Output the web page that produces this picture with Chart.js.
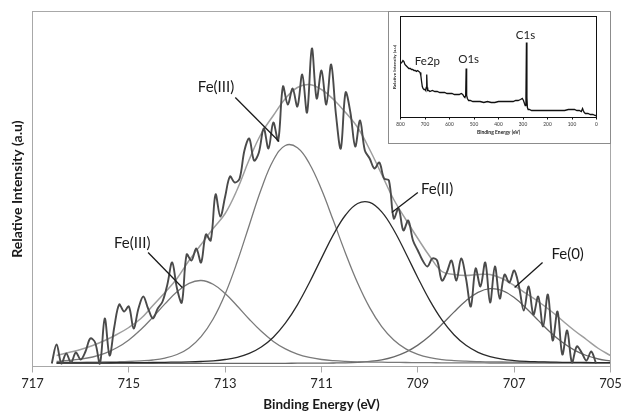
<!DOCTYPE html>
<html>
<head>
<meta charset="utf-8">
<title>Fe 2p XPS</title>
<script src="https://cdn.jsdelivr.net/npm/chart.js@4.4.1/dist/chart.umd.min.js"></script>
<style>
  html, body { margin: 0; padding: 0; background: #fff; }
  #wrap { position: relative; width: 621px; height: 414px; }
  #inset { position: absolute; left: 388px; top: 11px; width: 223px; height: 133px;
           background: #fff; border: 1px solid #8c8c8c; box-sizing: border-box; }
  #inset canvas { display: block; }
</style>
</head>
<body>
<div id="wrap">
  <canvas id="mainChart" width="621" height="414"></canvas>
  <div id="inset"><canvas id="surveyChart" width="221" height="131"></canvas></div>
</div>
<script>
// Fe 2p high resolution spectrum (raw counts)
const rawEnergy = [716.6, 716.5, 716.4, 716.3, 716.2, 716.1, 716.0, 715.9, 715.8, 715.7,
  715.6, 715.5, 715.4, 715.3, 715.2, 715.1, 715.0, 714.9, 714.8, 714.7,
  714.6, 714.5, 714.4, 714.3, 714.2, 714.1, 714.0, 713.9, 713.8, 713.7,
  713.6, 713.5, 713.4, 713.3, 713.2, 713.1, 713.0, 712.9, 712.8, 712.7,
  712.6, 712.5, 712.4, 712.3, 712.2, 712.1, 712.0, 711.9, 711.8, 711.7,
  711.6, 711.5, 711.4, 711.3, 711.2, 711.1, 711.0, 710.9, 710.8, 710.7,
  710.6, 710.5, 710.4, 710.3, 710.2, 710.1, 710.0, 709.9, 709.8, 709.7,
  709.6, 709.5, 709.4, 709.3, 709.2, 709.1, 709.0, 708.9, 708.8, 708.7,
  708.6, 708.5, 708.4, 708.3, 708.2, 708.1, 708.0, 707.9, 707.8, 707.7,
  707.6, 707.5, 707.4, 707.3, 707.2, 707.1, 707.0, 706.9, 706.8, 706.7,
  706.6, 706.5, 706.4, 706.3, 706.2, 706.1, 706.0, 705.9, 705.8, 705.7,
  705.6, 705.5, 705.4, 705.3];
const rawCounts = [3, 22, 3, 13, 4, 14, 7, 15, 28, 24,
  3, 48, 11, 40, 62, 55, 60, 38, 58, 70,
  58, 48, 58, 65, 82, 104, 78, 64, 112, 106,
  118, 104, 132, 126, 172, 150, 170, 190, 184, 188,
  216, 228, 206, 214, 238, 218, 244, 226, 280, 262,
  278, 260, 292, 254, 318, 268, 296, 262, 302, 252,
  218, 274, 254, 220, 246, 216, 208, 198, 204, 188,
  186, 148, 158, 136, 146, 126, 116, 106, 100, 108,
  106, 86, 94, 106, 86, 108, 88, 60, 98, 80,
  104, 64, 100, 68, 92, 84, 96, 80, 56, 80,
  52, 70, 40, 72, 26, 55, 12, 36, 4, 20,
  14, 6, 15, 3];

// fitted components
const fitEnergy = [716.5, 716.25, 716.0, 715.75, 715.5, 715.25, 715.0, 714.75, 714.5, 714.25,
  714.0, 713.75, 713.5, 713.25, 713.0, 712.75, 712.5, 712.25, 712.0, 711.75,
  711.5, 711.25, 711.0, 710.75, 710.5, 710.25, 710.0, 709.75, 709.5, 709.25,
  709.0, 708.75, 708.5, 708.25, 708.0, 707.75, 707.5, 707.25, 707.0, 706.75,
  706.5, 706.25, 706.0, 705.75, 705.5, 705.25, 705.0];
const envelopeFit = [11, 14, 17, 21, 26, 32, 39, 48, 61, 74,
  88, 106, 122, 138, 153, 177, 207, 233, 251, 268,
  279, 282, 277, 267, 254, 239, 217, 192, 167, 147,
  128, 110, 95, 92, 91, 92, 92, 88, 81, 73,
  65, 56, 46, 36, 27, 18, 11];
const fe3SatFit = [5.2, 6.0, 7.3, 9.5, 13.1, 18.7, 26.6, 37.0, 49.4, 62.6,
  74.7, 83.2, 86.0, 82.2, 72.9, 60.5, 47.3, 35.2, 25.1, 17.6,
  12.4, 9.1, 7.0, 5.8, 5.1, 4.7, 4.5, 4.3, 4.1, 4.0,
  3.9, 3.8, 3.7, 3.7, 3.6, 3.6, 3.5, 3.5, 3.5, 3.4,
  3.4, 3.4, 3.4, 3.3, 3.3, 3.3, 3.3];
const fe3MainFit = [3.9, 4.0, 4.2, 4.3, 4.5, 4.7, 5.0, 5.6, 6.5, 8.4,
  12.0, 18.6, 29.9, 47.5, 72.5, 104.7, 141.3, 177.5, 206.3, 221.0,
  218.7, 202.8, 176.9, 145.4, 113.1, 83.5, 58.9, 39.9, 26.5, 17.6,
  12.1, 8.8, 6.9, 5.9, 5.3, 4.9, 4.6, 4.5, 4.3, 4.2,
  4.1, 4.0, 3.9, 3.8, 3.8, 3.7, 3.7];
const fe2Fit = [3.5, 3.6, 3.6, 3.6, 3.7, 3.8, 3.9, 3.9, 4.0, 4.2,
  4.4, 4.6, 5.0, 5.7, 7.0, 9.2, 13.1, 19.5, 29.3, 43.3,
  61.7, 84.0, 108.4, 132.1, 151.5, 163.0, 164.1, 154.6, 136.5, 113.3,
  88.8, 65.9, 46.6, 31.8, 21.2, 14.2, 9.9, 7.3, 5.9, 5.1,
  4.7, 4.4, 4.2, 4.1, 4.0, 3.9, 3.8];
const fe0Fit = [3.1, 3.1, 3.1, 3.1, 3.1, 3.1, 3.1, 3.1, 3.1, 3.1,
  3.1, 3.1, 3.1, 3.1, 3.1, 3.1, 3.2, 3.2, 3.2, 3.2,
  3.3, 3.3, 3.4, 3.5, 3.7, 4.2, 5.1, 6.7, 9.7, 14.4,
  21.4, 30.8, 42.2, 54.4, 65.8, 74.2, 77.9, 76.0, 68.9, 58.3,
  46.1, 34.3, 24.2, 16.4, 11.0, 7.5, 5.5];

// survey spectrum for the inset
const surveyEnergy = [800, 795, 790, 786, 782, 778, 774, 770, 766, 760,
  755, 750, 745, 740, 735, 730, 725, 720, 717, 714,
  711, 708, 704, 700, 697, 695, 693, 691, 689, 685,
  680, 670, 660, 650, 640, 630, 620, 610, 600, 590,
  580, 570, 560, 552, 546, 541, 537, 534, 532, 530,
  527, 522, 515, 505, 490, 475, 460, 445, 430, 415,
  400, 385, 370, 355, 340, 330, 320, 310, 303, 298,
  294, 291, 288, 286, 284, 282, 279, 274, 265, 250,
  235, 220, 205, 190, 175, 160, 145, 130, 115, 100,
  90, 80, 70, 62, 57, 54, 50, 45, 35, 25,
  15, 5, 0];
const surveyCounts = [54, 55, 57, 56, 53, 52, 51, 50, 49, 49,
  48, 48, 47, 47, 46, 47, 46, 45, 42, 36,
  31, 29, 28, 28, 27, 30, 43, 30, 27, 27,
  26, 27, 26, 26, 25, 25, 25, 24, 24, 24,
  23, 23, 23, 24, 23, 21, 20, 22, 49, 22,
  19, 17, 17, 16, 16, 16, 15, 16, 15, 15,
  16, 16, 16, 16, 16, 17, 17, 18, 19, 17,
  14, 12, 20, 75, 20, 10, 8, 8, 7, 7,
  7, 7, 7, 7, 7, 7, 7, 7, 8, 8,
  8, 7, 7, 6, 9, 7, 5, 4, 4, 3,
  3, 2, 2];

const FONT = 'Lato, "Open Sans", sans-serif';
const FRAME = '#a8a8a8';
Chart.defaults.font.family = FONT;

function toPoints(xs, ys) {
  return xs.map((x, i) => ({ x: x, y: ys[i] }));
}

// draws a box round the plot area
const framePlugin = {
  id: 'frame',
  afterDraw(chart, args, opts) {
    const a = chart.chartArea;
    const ctx = chart.ctx;
    ctx.save();
    ctx.strokeStyle = opts.color;
    ctx.lineWidth = 1;
    ctx.strokeRect(a.left, a.top, a.right - a.left, a.bottom - a.top);
    ctx.restore();
  }
};

// peak labels with leader lines, anchored in data units
const notePlugin = {
  id: 'notes',
  afterDraw(chart, args, opts) {
    const { ctx } = chart;
    const x = chart.scales.x, y = chart.scales.y;
    ctx.save();
    ctx.font = opts.font;
    ctx.fillStyle = opts.color;
    ctx.strokeStyle = opts.color;
    ctx.lineWidth = opts.lineWidth;
    ctx.textAlign = 'center';
    ctx.textBaseline = 'middle';
    opts.items.forEach(n => {
      if (n.from) {
        ctx.beginPath();
        ctx.moveTo(x.getPixelForValue(n.from[0]), y.getPixelForValue(n.from[1]));
        ctx.lineTo(x.getPixelForValue(n.to[0]), y.getPixelForValue(n.to[1]));
        ctx.stroke();
      }
      ctx.fillText(n.text, x.getPixelForValue(n.at[0]), y.getPixelForValue(n.at[1]));
    });
    ctx.restore();
  }
};

function line(data, color, width, tension) {
  return { data: data, borderColor: color, borderWidth: width, tension: tension,
           pointRadius: 0, fill: false };
}

new Chart(document.getElementById('mainChart'), {
  type: 'line',
  data: {
    datasets: [
      line(toPoints(rawEnergy, rawCounts), '#4a4a4a', 1.9, 0.35),
      line(toPoints(fitEnergy, fe2Fit), '#2a2a2a', 1.3, 0.4),
      line(toPoints(fitEnergy, fe3MainFit), '#7a7a7a', 1.3, 0.4),
      line(toPoints(fitEnergy, fe3SatFit), '#7a7a7a', 1.3, 0.4),
      line(toPoints(fitEnergy, fe0Fit), '#686868', 1.3, 0.4),
      line(toPoints(fitEnergy, envelopeFit), '#9e9e9e', 1.5, 0.4)
    ]
  },
  options: {
    responsive: false,
    animation: false,
    layout: { padding: { top: 11.5, right: 10.5, left: 0, bottom: 0 } },
    plugins: {
      legend: { display: false },
      tooltip: { enabled: false },
      frame: { color: FRAME },
      notes: {
        font: '15px ' + FONT, color: '#1a1a1a', lineWidth: 1.3,
        items: [
          { text: 'Fe(III)', at: [714.93, 123], from: [714.60, 114], to: [713.89, 79] },
          { text: 'Fe(III)', at: [713.19, 279], from: [712.79, 269], to: [711.88, 225] },
          { text: 'Fe(II)', at: [708.60, 177], from: [709.00, 174], to: [709.54, 154] },
          { text: 'Fe(0)', at: [705.89, 112], from: [706.41, 104], to: [706.99, 79] }
        ]
      }
    },
    scales: {
      x: {
        type: 'linear', reverse: true, min: 705, max: 717,
        ticks: { stepSize: 2, color: '#262626', padding: 4, font: { size: 13 } },
        grid: { drawOnChartArea: false, tickLength: 6, color: FRAME },
        border: { display: false },
        title: { display: true, text: 'Binding Energy (eV)', color: '#1a1a1a',
                 font: { size: 13.5, weight: 'bold' }, padding: { top: 0, bottom: 1 } },
        afterFit(s) { s.height = 47.5; s.paddingLeft = 0; s.paddingRight = 0; }
      },
      y: {
        min: 0, max: 355,
        ticks: { display: false },
        grid: { display: false },
        border: { display: false },
        title: { display: true, text: 'Relative Intensity (a.u)', color: '#1a1a1a',
                 font: { size: 14, weight: 'bold' }, padding: { top: 8.6, bottom: 0 } },
        afterFit(s) { s.width = 32.5; }
      }
    }
  },
  plugins: [framePlugin, notePlugin]
});

// inset: survey spectrum
new Chart(document.getElementById('surveyChart'), {
  type: 'line',
  data: {
    datasets: [ line(toPoints(surveyEnergy, surveyCounts), '#111', 1.3, 0) ]
  },
  options: {
    responsive: false,
    animation: false,
    layout: { padding: { top: 4.5, right: 13.5, left: 0, bottom: 0 } },
    plugins: {
      legend: { display: false },
      tooltip: { enabled: false },
      frame: { color: '#111' },
      notes: {
        font: '11.5px ' + FONT, color: '#222', lineWidth: 1,
        items: [
          { text: 'Fe2p', at: [690, 56] },
          { text: 'O1s', at: [522, 58] },
          { text: 'C1s', at: [290, 82] }
        ]
      }
    },
    scales: {
      x: {
        type: 'linear', reverse: true, min: 0, max: 800,
        ticks: { stepSize: 100, color: '#333', padding: 2, font: { size: 4.8 } },
        grid: { drawOnChartArea: false, tickLength: 2, color: '#111' },
        border: { display: false },
        title: { display: true, text: 'Binding Energy (eV)', color: '#222',
                 font: { size: 5, weight: 'bold' }, padding: { top: 0, bottom: 8 } },
        afterFit(s) { s.height = 25.5; s.paddingLeft = 0; s.paddingRight = 0; }
      },
      y: {
        min: 0, max: 101,
        ticks: { display: false },
        grid: { display: false },
        border: { display: false },
        title: { display: true, text: 'Relative Intensity (a.u)', color: '#222',
                 font: { size: 4.5, weight: 'bold' }, padding: { top: 3, bottom: 0 } },
        afterFit(s) { s.width = 11.5; }
      }
    }
  },
  plugins: [framePlugin, notePlugin]
});
</script>
</body>
</html>
